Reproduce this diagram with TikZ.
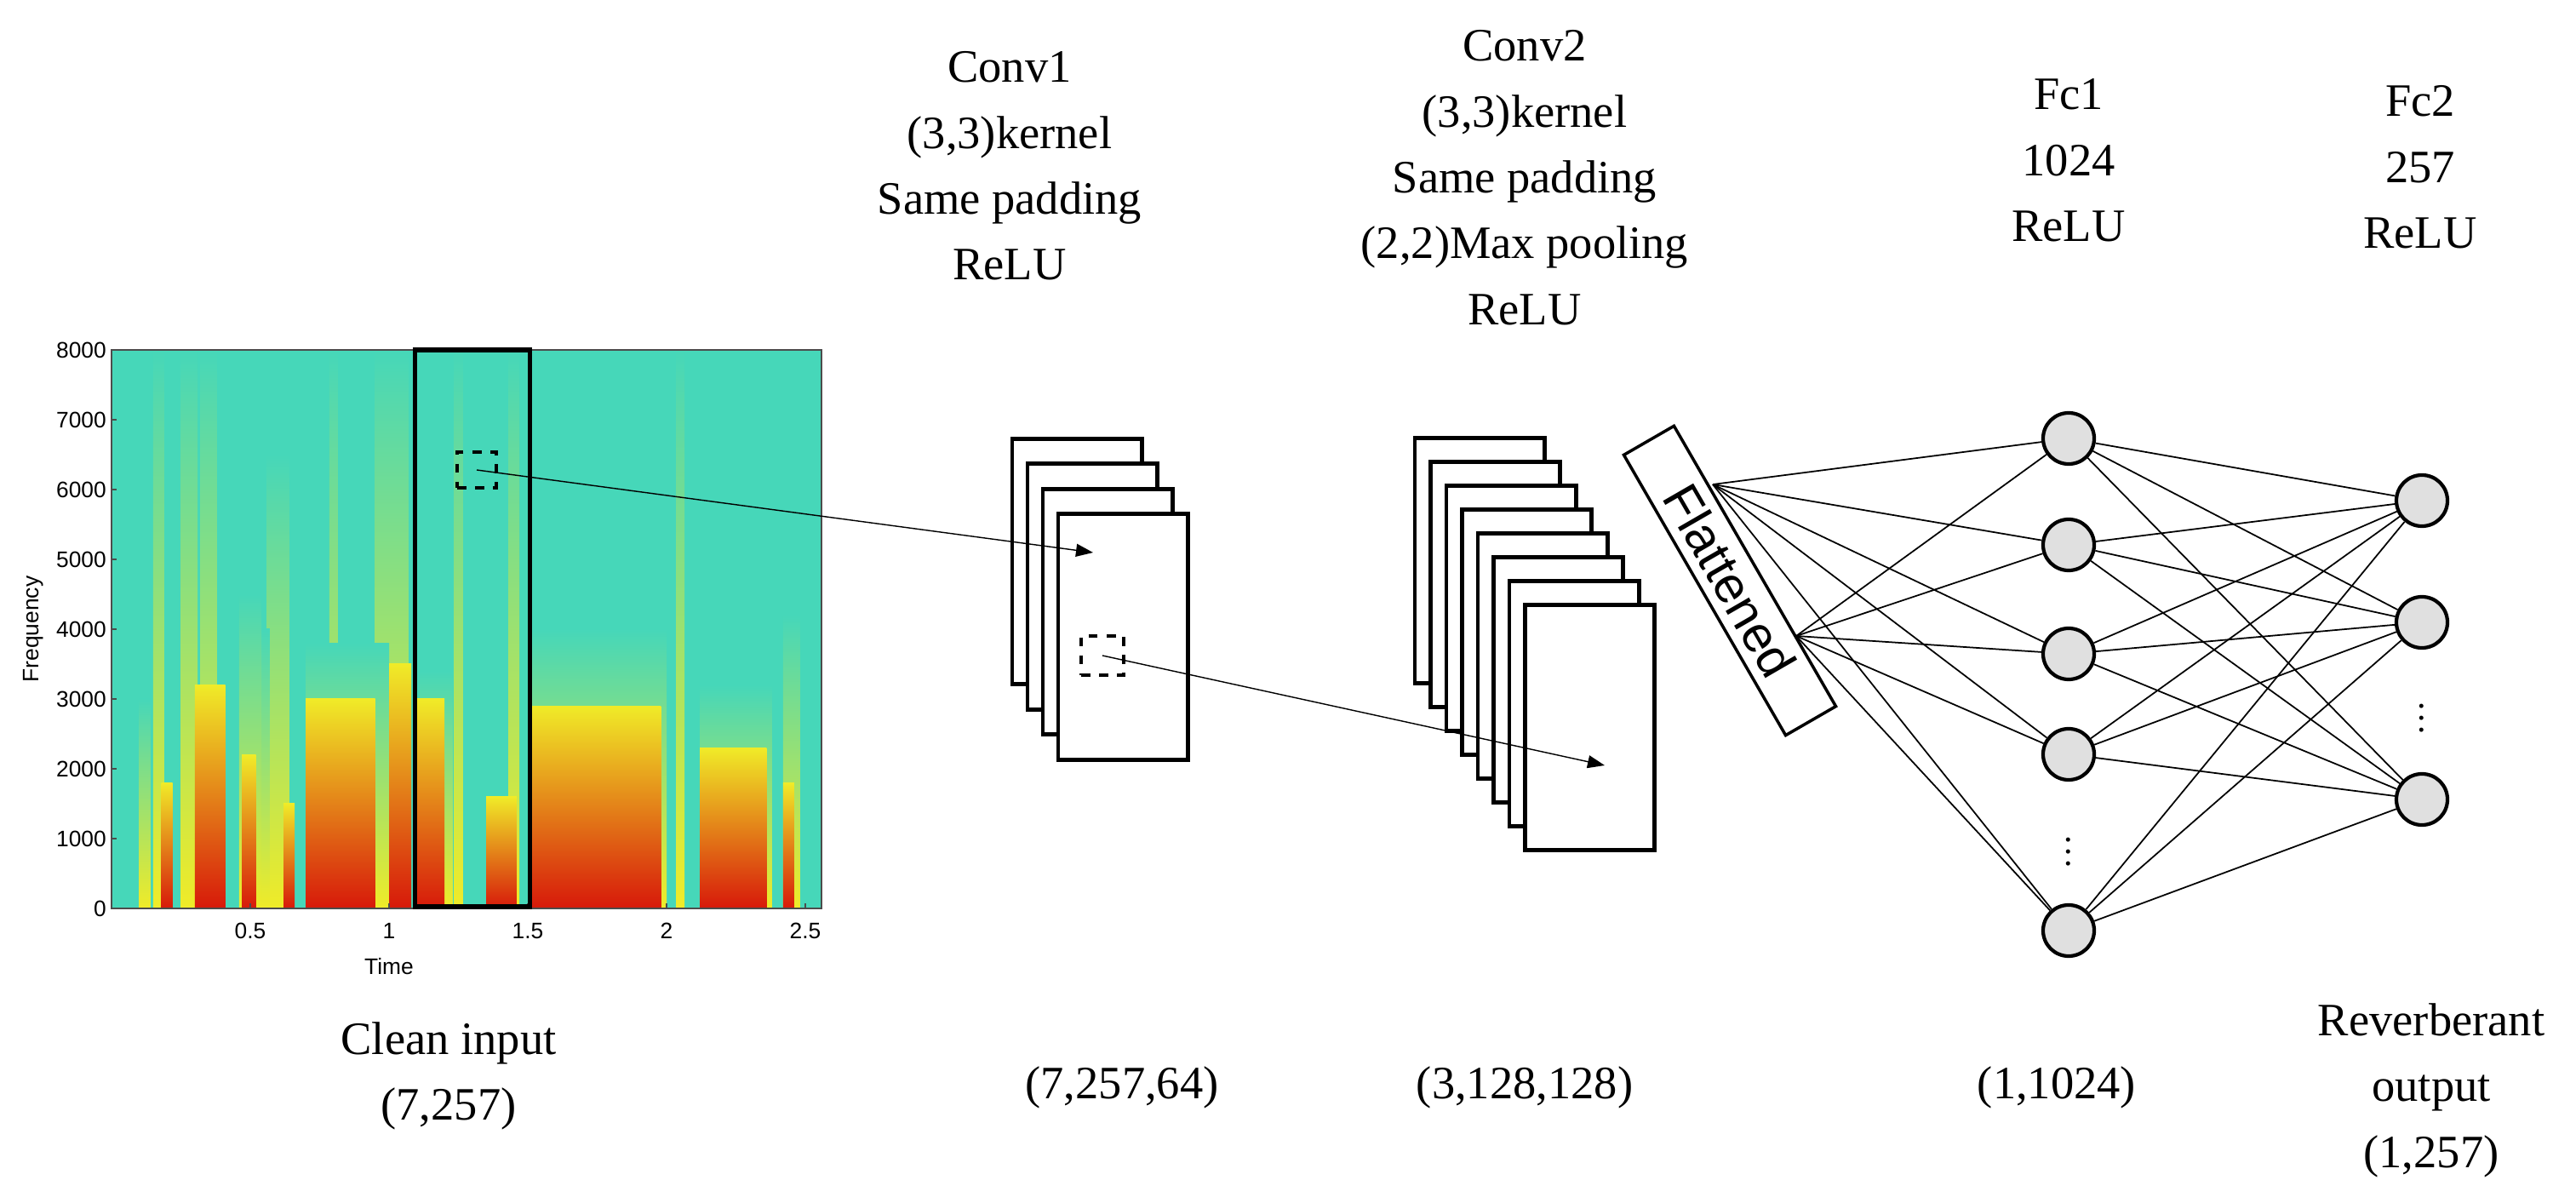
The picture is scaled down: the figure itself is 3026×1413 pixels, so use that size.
\documentclass[tikz,border=0pt]{standalone}
\usepackage{fontspec}
\setmainfont{Liberation Serif}
\newfontfamily\axisfont{Liberation Sans}
\usetikzlibrary{arrows.meta,positioning}
\definecolor{jetcyan}{RGB}{70,215,185}
\definecolor{jetyellow}{RGB}{240,235,40}
\definecolor{jetred}{RGB}{215,25,10}
\definecolor{jetorange}{RGB}{250,150,20}
\tikzset{
     label/.style = { font=\fontsize{15.5}{22}\selectfont, align=center, anchor=north, inner sep=0pt },
      tick/.style = { font=\axisfont\fontsize{7.5}{9}\selectfont, inner sep=1pt },
      fmap/.style = { draw, line width=1.4pt, fill=white, minimum width=1.52cm, minimum height=2.88cm, inner sep=0pt },
     patch/.style = { draw, dashed, line width=1.3pt, minimum width=0.46cm, minimum height=0.42cm, inner sep=0pt },
    neuron/.style = { circle, draw, line width=1.2pt, fill=black!12, minimum size=0.6cm, inner sep=0pt },
     arrow/.style = { thin, -{Triangle[length=2mm,width=1.5mm]} },
      link/.style = { line width=0.5pt },
}
\begin{document}
\begin{tikzpicture}[x=0.01cm, y=-0.01cm]
  \useasboundingbox (0,0) rectangle (3026,1413);

  % spectrogram
  \fill[jetcyan] (131,411) rectangle (965,1067);
  \foreach \t/\w/\f in {0.17/0.02/8000, 0.28/0.03/8000, 0.35/0.03/8000, 0.6/0.04/6500,
                        0.55/0.02/4000, 0.8/0.015/8000, 1.0/0.05/8000, 1.25/0.015/8000,
                        1.45/0.02/8000, 2.05/0.015/8000, 1.05/0.02/8000, 0.12/0.02/3000,
                        0.85/0.15/3800, 1.75/0.25/4000, 2.25/0.13/3200, 1.17/0.06/3400,
                        0.5/0.04/4500, 2.45/0.03/4200} {
    \shade[bottom color=jetyellow, top color=jetcyan]
      ({131+(\t-\w)*326},1067) rectangle ({131+(\t+\w)*326},{1067-\f*0.082});
  }
  \foreach \a/\b/\f in {0.18/0.22/1800, 0.3/0.41/3200, 0.47/0.52/2200, 0.62/0.66/1500,
                        0.7/0.95/3000, 1.0/1.08/3500, 1.1/1.2/3000, 1.35/1.46/1600,
                        1.5/1.98/2900, 2.12/2.36/2300, 2.42/2.46/1800} {
    \shade[bottom color=jetred, middle color=jetorange, top color=jetyellow]
      ({131+\a*326},1067) rectangle ({131+\b*326},{1067-\f*0.082});
  }
  \draw[line width=0.6pt, black!70] (131,411) rectangle (965,1067);
  \foreach \v in {0,1000,...,8000} {
    \draw[black!70] (131,{1067-\v*0.082}) -- (137,{1067-\v*0.082});
    \node[tick, anchor=east] (yt\v) at (129,{1067-\v*0.082}) {\v};
  }
  \foreach \t in {0.5,1,1.5,2,2.5} {
    \draw[black!70] ({131+\t*326},1067) -- ({131+\t*326},1061);
    \node[tick, anchor=north] (xt\t) at ({131+\t*326},1080) {\t};
  }
  \node[tick] (time) at (457,1135) {Time};
  \node[tick, rotate=90] (freq) at (39,739) {Frequency};
  \node[draw, line width=1.6pt, minimum width=1.35cm, minimum height=6.54cm, inner sep=0pt] (window) at (555,738) {};
  \node[patch] (spatch) at (560,552) {};

  % conv1 feature maps
  \foreach \i in {0,...,3}
    \node[fmap] (conv1-\i) at ({1265+18*\i},{659.5+29.5*\i}) {};
  \node[patch, minimum width=0.5cm, minimum height=0.46cm] (kpatch) at (1295,770) {};
  \coordinate (hit1) at (1284,649);
  \draw[arrow] (spatch.center) -- (hit1);

  % conv2 feature maps
  \foreach \i in {0,...,7}
    \node[fmap] (conv2-\i) at ({1738+18.5*\i},{658.5+28*\i}) {};
  \coordinate (hit2) at (1885,899);
  \draw[arrow] (kpatch.center) -- (hit2);

  % flattened
  \node[draw, line width=1pt, fill=white, rotate=-60, minimum width=3.8cm, minimum height=0.68cm,
        font=\axisfont\fontsize{17}{20}\selectfont, inner sep=0pt] (flat) at (2032,682) {Flattened};
  \coordinate (fa) at (2012,569);
  \coordinate (fb) at (2110,747);

  % dense layers
  \foreach \i/\y in {1/515, 2/640, 3/768, 4/886, 5/1093}
    \node[neuron] (fc1-\i) at (2430,\y) {};
  \foreach \i/\y in {1/588, 2/731, 3/939}
    \node[neuron] (fc2-\i) at (2845,\y) {};
  \node[font=\large] (dots1) at (2430,990) {$\vdots$};
  \node[font=\large] (dots2) at (2845,833) {$\vdots$};
  \foreach \i in {1,...,5} {
    \draw[link] (fa) -- (fc1-\i);
    \draw[link] (fb) -- (fc1-\i);
    \foreach \j in {1,2,3}
      \draw[link] (fc1-\i) -- (fc2-\j);
  }

  % labels
  \node[label] (l-conv1) at (1186,60) {Conv1\\(3,3)kernel\\Same padding\\ReLU};
  \node[label] (l-conv2) at (1791,35) {Conv2\\(3,3)kernel\\Same padding\\(2,2)Max pooling\\ReLU};
  \node[label] (l-fc1) at (2430,92) {Fc1\\1024\\ReLU};
  \node[label] (l-fc2) at (2843,100) {Fc2\\257\\ReLU};
  \node[label] (l-in) at (527,1200) {Clean input\\(7,257)};
  \node[label] (s-conv1) at (1318,1252) {(7,257,64)};
  \node[label] (s-conv2) at (1791,1252) {(3,128,128)};
  \node[label] (s-fc1) at (2416,1252) {(1,1024)};
  \node[label] (l-out) at (2856,1178) {Reverberant\\output\\(1,257)};
\end{tikzpicture}
\end{document}
